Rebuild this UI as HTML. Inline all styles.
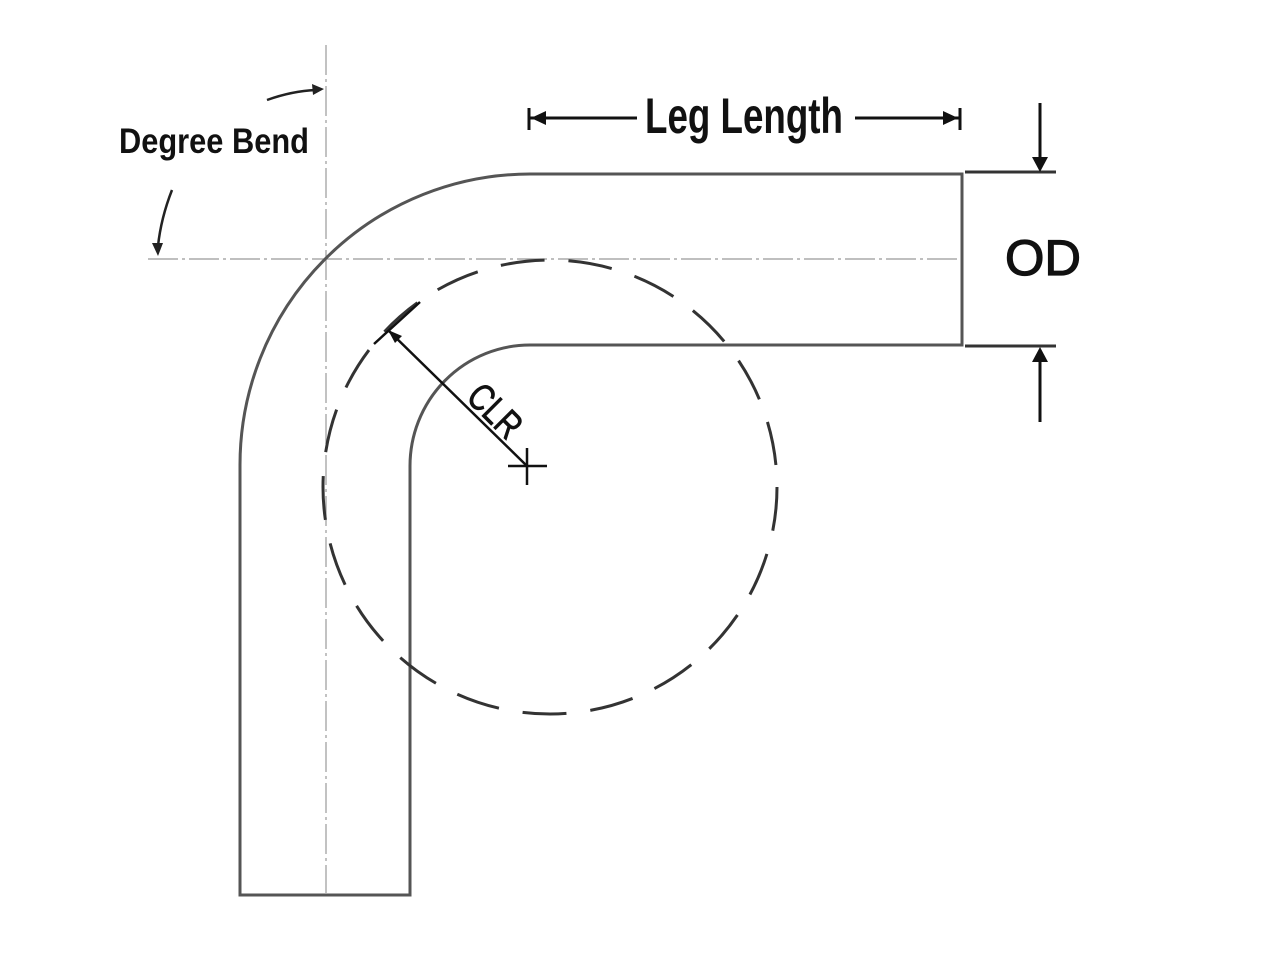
<!DOCTYPE html>
<html><head><meta charset="utf-8"><style>html,body{margin:0;padding:0;background:#fff}svg{display:block}</style></head>
<body>
<svg width="1279" height="960" viewBox="0 0 1279 960" xmlns="http://www.w3.org/2000/svg">
<rect width="1279" height="960" fill="#fff"/>
<!-- centerlines -->
<line x1="326" y1="45" x2="326" y2="893" stroke="#999" stroke-width="1.2" stroke-dasharray="30,4,3,4"/>
<line x1="148" y1="259" x2="960" y2="259" stroke="#999" stroke-width="1.2" stroke-dasharray="30,4,3,4"/>
<!-- pipe -->
<path d="M240,895 L240,466 A290,291 0 0 1 530,174 L962,174 L962,345 L530,345 A120,121 0 0 0 410,466 L410,895 Z" fill="none" stroke="#555" stroke-width="3"/>
<!-- dashed circle -->
<circle cx="550" cy="487" r="227" fill="none" stroke="#333" stroke-width="3" stroke-dasharray="44,24"/>
<!-- CLR -->
<line x1="388" y1="330" x2="527" y2="466" stroke="#111" stroke-width="2.5"/>
<polygon points="388,330 402,336 395,343" fill="#111"/>
<line x1="374" y1="344" x2="420" y2="302" stroke="#111" stroke-width="2.5"/>
<line x1="508" y1="466" x2="547" y2="466" stroke="#111" stroke-width="2.5"/>
<line x1="527" y1="448" x2="527" y2="485" stroke="#111" stroke-width="2.5"/>
<text x="0" y="0" transform="translate(486,420) rotate(45)" text-anchor="middle" font-family="Liberation Sans, sans-serif" font-size="38" fill="#111" stroke="#111" stroke-width="0.8" textLength="60" lengthAdjust="spacingAndGlyphs">CLR</text>
<!-- Leg length -->
<line x1="528" y1="118" x2="637" y2="118" stroke="#111" stroke-width="3"/>
<line x1="855" y1="118" x2="960" y2="118" stroke="#111" stroke-width="3"/>
<line x1="529" y1="108" x2="529" y2="130" stroke="#111" stroke-width="3"/>
<line x1="960" y1="108" x2="960" y2="130" stroke="#111" stroke-width="3"/>
<polygon points="531,118 546,111 546,125" fill="#111"/>
<polygon points="958,118 943,111 943,125" fill="#111"/>
<text x="645" y="133" font-family="Liberation Sans, sans-serif" font-weight="bold" font-size="50" fill="#111" textLength="198" lengthAdjust="spacingAndGlyphs">Leg Length</text>
<!-- Degree bend -->
<text x="119" y="153" font-family="Liberation Sans, sans-serif" font-weight="bold" font-size="35" fill="#111" textLength="190" lengthAdjust="spacingAndGlyphs">Degree Bend</text>
<path d="M267,100 Q292,91 316,90" fill="none" stroke="#222" stroke-width="2.5"/>
<polygon points="324,89 312,84 313,95" fill="#222"/>
<path d="M172,190 Q161,218 158,246" fill="none" stroke="#222" stroke-width="2.5"/>
<polygon points="158,256 152,243 163,243" fill="#222"/>
<!-- OD -->
<line x1="965" y1="172" x2="1056" y2="172" stroke="#333" stroke-width="3"/>
<line x1="965" y1="346" x2="1056" y2="346" stroke="#333" stroke-width="3"/>
<line x1="1040" y1="103" x2="1040" y2="165" stroke="#111" stroke-width="3"/>
<polygon points="1040,172 1032,157 1048,157" fill="#111"/>
<line x1="1040" y1="355" x2="1040" y2="422" stroke="#111" stroke-width="3"/>
<polygon points="1040,347 1032,362 1048,362" fill="#111"/>
<text x="1005" y="275" font-family="Liberation Sans, sans-serif" font-size="50" fill="#111" stroke="#111" stroke-width="1.2" textLength="76" lengthAdjust="spacingAndGlyphs">OD</text>
</svg>
</body></html>
